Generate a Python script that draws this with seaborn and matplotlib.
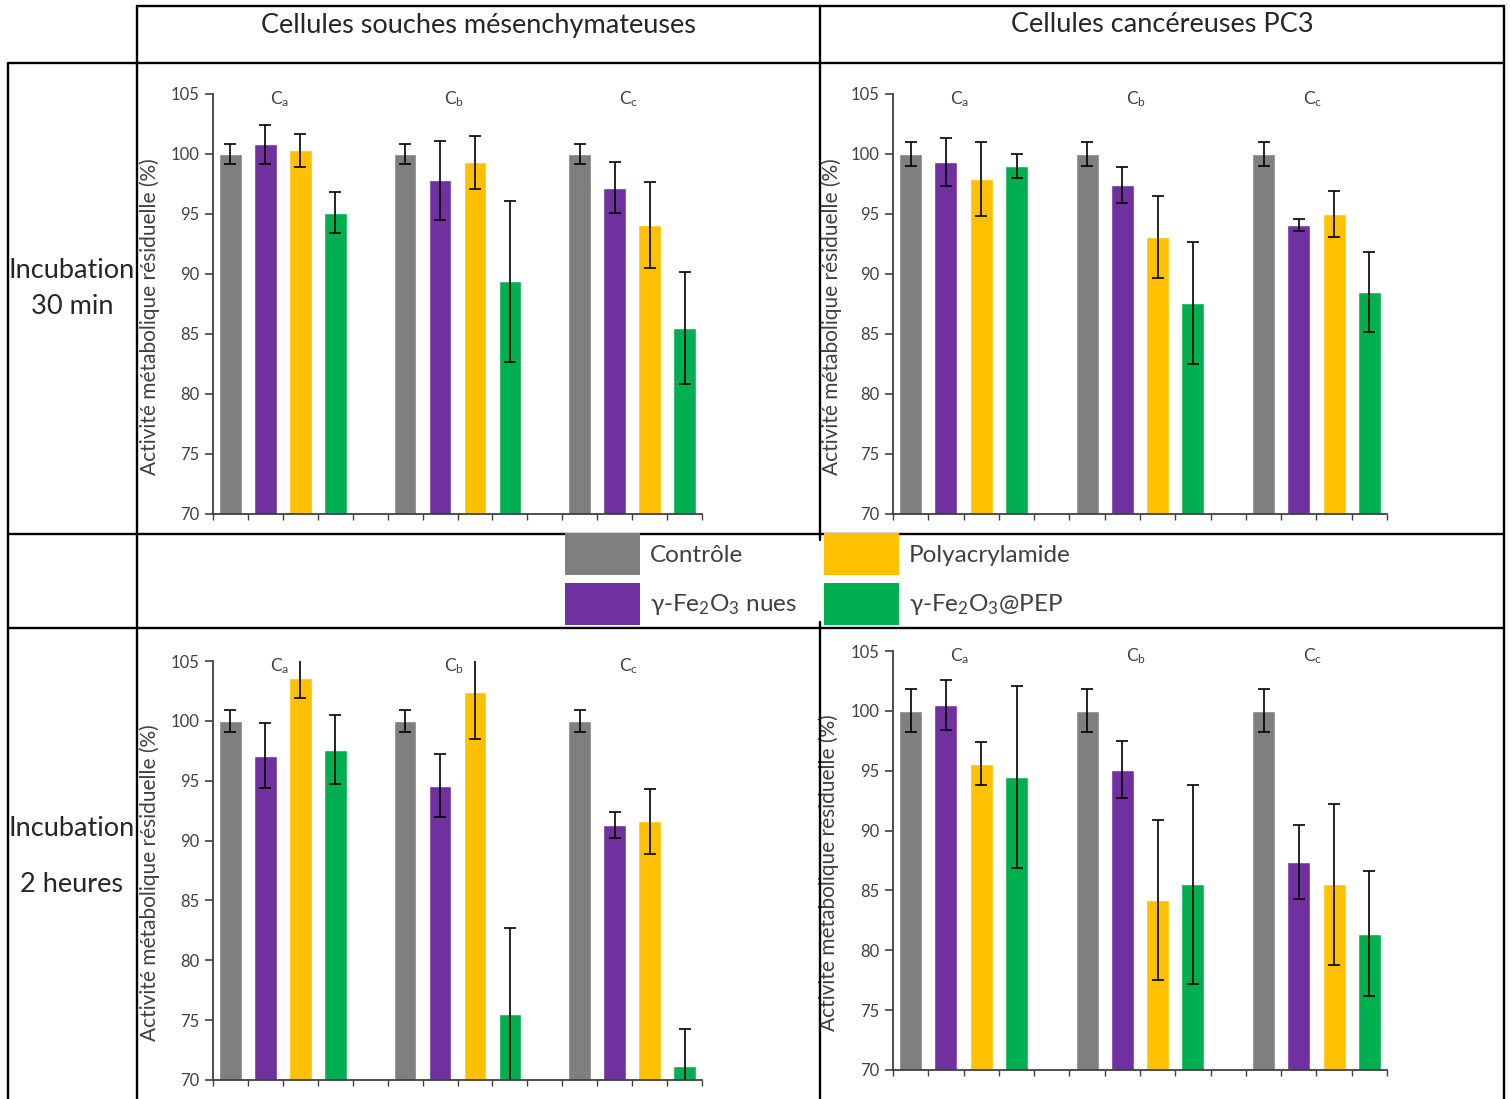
import numpy as np
import pandas as pd
import matplotlib
matplotlib.use("Agg")
import matplotlib.pyplot as plt
from matplotlib.lines import Line2D
from matplotlib.patches import Patch
import seaborn as sns

# ---- data ----
treatments = ["Contrôle", "γ-Fe$_2$O$_3$ nues", "Polyacrylamide", "γ-Fe$_2$O$_3$@PEP"]
groups = ["C$_a$", "C$_b$", "C$_c$"]
colors = ["#7F7F7F", "#7030A0", "#FFC000", "#00B050"]

# values per group (Ca, Cb, Cc), 4 treatments each
msc_30_val = [[100.0, 100.8, 100.3, 95.1], [100.0, 97.8, 99.3, 89.4], [100.0, 97.2, 94.1, 85.5]]
msc_30_err = [[0.8, 1.6, 1.4, 1.7], [0.8, 3.3, 2.2, 6.7], [0.8, 2.1, 3.6, 4.7]]

pc3_30_val = [[100.0, 99.3, 97.9, 99.0], [100.0, 97.4, 93.1, 87.6], [100.0, 94.1, 95.0, 88.5]]
pc3_30_err = [[1.0, 2.0, 3.1, 1.0], [1.0, 1.5, 3.4, 5.1], [1.0, 0.5, 1.9, 3.3]]

msc_2h_val = [[100.0, 97.1, 103.6, 97.6], [100.0, 94.6, 102.4, 75.5], [100.0, 91.3, 91.6, 71.2]]
msc_2h_err = [[0.9, 2.7, 1.7, 2.9], [0.9, 2.6, 3.9, 7.2], [0.9, 1.1, 2.7, 3.1]]

pc3_2h_val = [[100.0, 100.5, 95.6, 94.5], [100.0, 95.1, 84.2, 85.5], [100.0, 87.4, 85.5, 81.4]]
pc3_2h_err = [[1.8, 2.1, 1.8, 7.6], [1.8, 2.4, 6.7, 8.3], [1.8, 3.1, 6.7, 5.2]]

col_titles = ["Cellules souches mésenchymateuses", "Cellules cancéreuses PC3"]
row_titles = [["Incubation", "30 min"], ["Incubation", "2 heures"]]
ylabel = "Activité métabolique résiduelle (%)"
yticks = [70, 75, 80, 85, 90, 95, 100, 105]

sns.set_style("white")
plt.rcParams["font.family"] = ["Lato", "DejaVu Sans"]
plt.rcParams["mathtext.default"] = "regular"

W, H = 1511, 1099
fig = plt.figure(figsize=(W / 100, H / 100), dpi=100)


def fx(px):
    return px / W


def fy(py):
    return 1 - py / H


def make_df(vals, errs):
    rows = []
    for g, (gv, ge) in enumerate(zip(vals, errs)):
        for t, (v, e) in enumerate(zip(gv, ge)):
            rows.append({"slot": g * 5 + t, "treatment": treatments[t], "value": v, "err": e})
    return pd.DataFrame(rows)


def draw_panel(rect, vals, errs, label_x):
    ax = fig.add_axes(rect)
    df = make_df(vals, errs)
    sns.barplot(data=df, x="slot", y="value", hue="treatment", order=list(range(14)),
                hue_order=treatments, palette=dict(zip(treatments, colors)),
                dodge=False, width=0.65, saturation=1, errorbar=None, legend=False, ax=ax)
    ax.errorbar(df["slot"], df["value"], yerr=df["err"], fmt="none", ecolor="black",
                elinewidth=1.2, capsize=4, capthick=1.2)
    ax.set_ylim(70, 105)
    ax.set_xlim(-0.5, 13.5)
    ax.set_yticks(yticks)
    ax.set_xticks(np.arange(-0.5, 14, 1))
    ax.set_xticklabels([])
    ax.tick_params(axis="y", direction="out", length=6, width=1.2, color="#404040",
                   labelsize=12, labelcolor="#404040", left=True, pad=4)
    ax.tick_params(axis="x", direction="out", length=4, width=1.0, color="#404040", bottom=True)
    for s in ["top", "right"]:
        ax.spines[s].set_visible(False)
    for s in ["left", "bottom"]:
        ax.spines[s].set_color("#404040")
        ax.spines[s].set_linewidth(1.3)
    ax.set_xlabel("")
    ax.set_ylabel(ylabel, fontsize=15, color="#404040")
    ax.yaxis.set_label_coords(label_x, 0.47)
    for g, name in enumerate(groups):
        ax.text(g * 5 + 1.4, 104.6, name, ha="center", va="center", fontsize=12.5,
                color="#404040", clip_on=False)
    return ax


ax_w1, ax_w2 = (702 - 213) / W, (1387 - 893) / W
draw_panel([fx(213), fy(514), ax_w1, 420 / H], msc_30_val, msc_30_err, -0.108)
draw_panel([fx(893), fy(514), ax_w2, 420 / H], pc3_30_val, pc3_30_err, -0.103)
draw_panel([fx(213), fy(1080), ax_w1, 419 / H], msc_2h_val, msc_2h_err, -0.108)
draw_panel([fx(893), fy(1070), ax_w2, 419 / H], pc3_2h_val, pc3_2h_err, -0.11)

# ---- table borders ----
def hline(y, x0, x1):
    fig.add_artist(Line2D([fx(x0), fx(x1)], [fy(y), fy(y)], color="black", lw=1.7))


def vline(x, y0, y1):
    fig.add_artist(Line2D([fx(x), fx(x)], [fy(y0), fy(y1)], color="black", lw=1.7))


hline(6, 137, 1504)
hline(63, 8, 1504)
hline(534, 8, 1504)
hline(628, 8, 1504)
vline(8, 63, 1099)
vline(137, 6, 1099)
vline(820, 6, 540)
vline(820, 622, 1099)
vline(1504, 6, 1099)

# ---- headers and row labels ----
fig.text(fx(478), fy(25), col_titles[0], ha="center", va="center", fontsize=19.5)
fig.text(fx(1162), fy(25), col_titles[1], ha="center", va="center", fontsize=19.5)
fig.text(fx(72), fy(270), row_titles[0][0], ha="center", va="center", fontsize=19.5)
fig.text(fx(72), fy(306), row_titles[0][1], ha="center", va="center", fontsize=19.5)
fig.text(fx(72), fy(828), row_titles[1][0], ha="center", va="center", fontsize=19.5)
fig.text(fx(72), fy(885), row_titles[1][1], ha="center", va="center", fontsize=19.5)

# ---- legend ----
handles = [Patch(facecolor=c, edgecolor="none", label=t) for c, t in zip(colors, treatments)]
fig.legend(handles=handles, ncol=2, loc="center left", bbox_to_anchor=(fx(565), fy(579)),
           frameon=False, fontsize=17.5, handlelength=3.09, handleheight=2.3,
           labelspacing=0.3, handletextpad=0.41, columnspacing=1.09, borderpad=0,
           borderaxespad=0, labelcolor="#404040")

fig.savefig("out.png", dpi=100)
